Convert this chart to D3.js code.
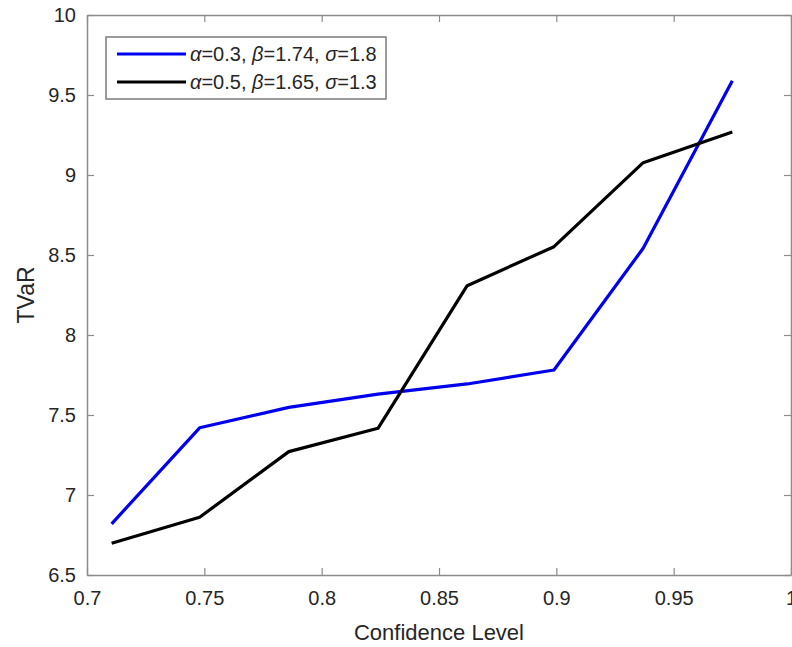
<!DOCTYPE html>
<html>
<head>
<meta charset="utf-8">
<script src="https://cdn.jsdelivr.net/npm/d3@7"></script>
<style>
  body { margin: 0; background: #fff; }
  text { font-family: "Liberation Sans", Arial, sans-serif; fill: #262626; }
</style>
</head>
<body>
<svg id="chart" width="792" height="647"></svg>
<script>
// data
const confLevel = [0.7105, 0.748, 0.786, 0.824, 0.862, 0.899, 0.937, 0.975];
const tvarA = [6.82, 7.42, 7.548, 7.63, 7.694, 7.781, 8.542, 9.589];
const tvarB = [6.698, 6.861, 7.271, 7.417, 8.308, 8.552, 9.077, 9.269];
const xTicks = [0.7, 0.75, 0.8, 0.85, 0.9, 0.95, 1];
const yTicks = [6.5, 7, 7.5, 8, 8.5, 9, 9.5, 10];

const seriesList = [
    { values: tvarA, color: '#0000ee', label: ['0.3', '1.74', '1.8'] },
    { values: tvarB, color: '#000000', label: ['0.5', '1.65', '1.3'] }
];

const margin = { left: 87, right: 1, top: 15, bottom: 72 };
const width = 792, height = 647;

const svg = d3.select("#chart");

const x = d3.scaleLinear().domain([0.7, 1]).range([margin.left, width - margin.right]);
const y = d3.scaleLinear().domain([6.5, 10]).range([height - margin.bottom, margin.top]);

const axisColor = '#8c8c8c';
const tickLen = 7;

// ticks on all four sides, pointing inside
const bottomAxis = svg.append("g")
    .attr("transform", `translate(0,${y(6.5)})`)
    .call(d3.axisBottom(x).tickValues(xTicks).tickSizeInner(-tickLen).tickSizeOuter(0).tickPadding(16)
        .tickFormat(d => d3.format("")(d)));
const topAxis = svg.append("g")
    .attr("transform", `translate(0,${y(10)})`)
    .call(d3.axisTop(x).tickValues(xTicks).tickSizeInner(-tickLen).tickSizeOuter(0).tickFormat(""));
const leftAxis = svg.append("g")
    .attr("transform", `translate(${x(0.7)},0)`)
    .call(d3.axisLeft(y).tickValues(yTicks).tickSizeInner(-tickLen).tickSizeOuter(0).tickPadding(11)
        .tickFormat(d => d3.format("")(d)));
const rightAxis = svg.append("g")
    .attr("transform", `translate(${x(1)},0)`)
    .call(d3.axisRight(y).tickValues(yTicks).tickSizeInner(-tickLen).tickSizeOuter(0).tickFormat(""));

[bottomAxis, topAxis, leftAxis, rightAxis].forEach(a => {
    a.select(".domain").attr("stroke", axisColor).attr("stroke-width", 1.5);
    a.selectAll(".tick line").attr("stroke", axisColor).attr("stroke-width", 1.2);
    a.selectAll(".tick text").attr("font-size", 20).attr("fill", "#262626")
        .style("font-family", '"Liberation Sans", Arial, sans-serif');
});

// axis labels
svg.append("text")
    .attr("x", (x(0.7) + x(1)) / 2)
    .attr("y", 640)
    .attr("text-anchor", "middle")
    .attr("font-size", 22)
    .text("Confidence Level");

svg.append("text")
    .attr("transform", `translate(34,${(y(6.5) + y(10)) / 2}) rotate(-90)`)
    .attr("text-anchor", "middle")
    .attr("font-size", 23)
    .text("TVaR");

// lines
const line = d3.line()
    .x((d, i) => x(confLevel[i]))
    .y(d => y(d));

seriesList.forEach(s => {
    svg.append("path")
        .datum(s.values)
        .attr("fill", "none")
        .attr("stroke", s.color)
        .attr("stroke-width", 3.2)
        .attr("stroke-linejoin", "round")
        .attr("d", line);
});

// legend
const legend = svg.append("g");
legend.append("rect")
    .attr("x", 106).attr("y", 37)
    .attr("width", 280).attr("height", 62)
    .attr("fill", "#fff")
    .attr("stroke", "#7a7a7a")
    .attr("stroke-width", 1.5);

seriesList.forEach((s, i) => {
    const ly = 54 + i * 28;
    legend.append("line")
        .attr("x1", 117).attr("x2", 186)
        .attr("y1", ly).attr("y2", ly)
        .attr("stroke", s.color)
        .attr("stroke-width", 3.2);
    const t = legend.append("text")
        .attr("x", 190).attr("y", ly + 7)
        .attr("font-size", 20);
    const greek = ['\u03b1', '\u03b2', '\u03c3'];
    greek.forEach((g, k) => {
        t.append("tspan").attr("font-style", "italic").text(g);
        t.append("tspan").text("=" + s.label[k] + (k < 2 ? ", " : ""));
    });
});
</script>
</body>
</html>
